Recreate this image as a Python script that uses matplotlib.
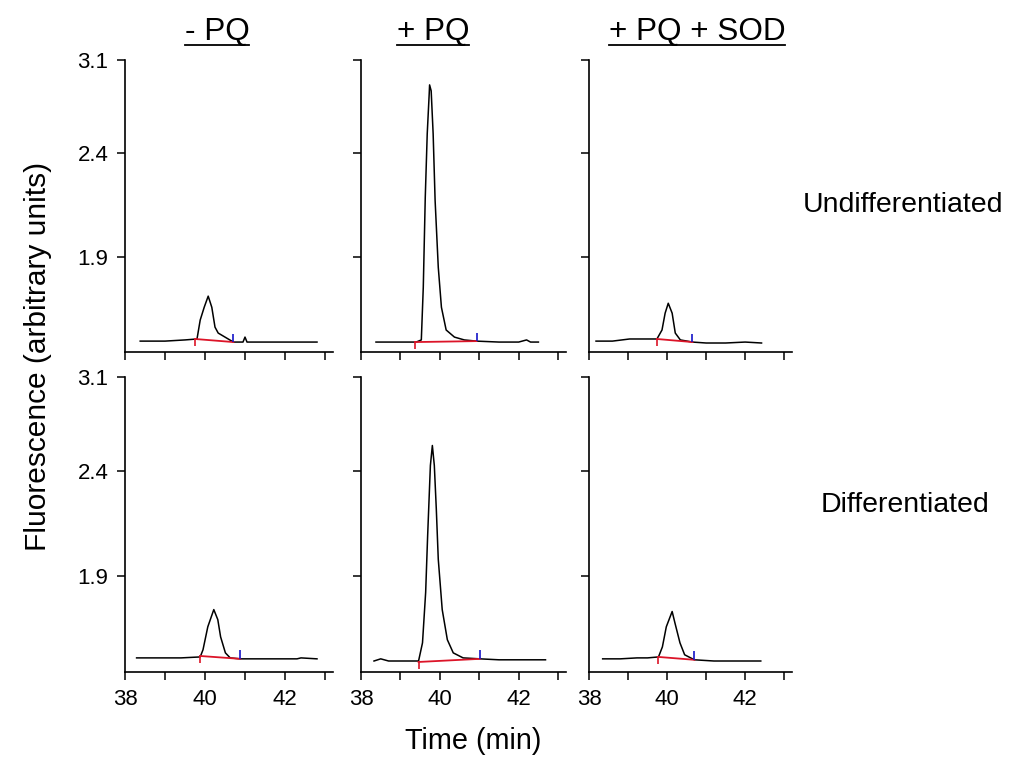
import numpy as np
import matplotlib
matplotlib.use('Agg')
import matplotlib.pyplot as plt
from matplotlib.lines import Line2D

plt.rcParams['font.family'] = ['Liberation Sans', 'DejaVu Sans']

W, H = 1020, 773

# the printed y axis is not linear: values and their height above the baseline (px)
Y_TICKS = [1.9, 2.4, 3.1]
Y_VALS = [1.0, 1.5, 1.9, 2.4, 3.1, 4.0]
Y_POS = [-119, 0, 95, 200, 293, 413]

TIME_TICKS = [38, 39, 40, 41, 42, 43]
TIME_LABELS = ['38', '', '40', '', '42', '']

col_titles = ['- PQ', '+ PQ', '+ PQ + SOD']
row_labels = ['Undifferentiated', 'Differentiated']

# --- undifferentiated ---
t_u_ctrl = [38.38, 39.0, 39.5, 39.8, 39.88, 39.98, 40.08, 40.17, 40.25, 40.33, 40.54, 40.71, 40.95, 41.0, 41.05, 41.5, 42.0, 42.8]
f_u_ctrl = [1.546, 1.546, 1.551, 1.555, 1.635, 1.689, 1.736, 1.689, 1.605, 1.580, 1.559, 1.542, 1.542, 1.563, 1.542, 1.542, 1.542, 1.542]

t_u_pq = [38.38, 38.8, 39.2, 39.40, 39.53, 39.58, 39.63, 39.68, 39.73, 39.74, 39.78, 39.83, 39.88, 39.96, 40.04, 40.16, 40.37, 40.62, 40.93, 41.5, 42.0, 42.2, 42.3, 42.5]
f_u_pq = [1.542, 1.542, 1.542, 1.542, 1.551, 1.774, 2.186, 2.543, 2.844, 2.912, 2.867, 2.543, 2.171, 1.858, 1.689, 1.593, 1.563, 1.551, 1.546, 1.542, 1.542, 1.551, 1.542, 1.542]

t_u_sod = [38.18, 38.6, 39.04, 39.5, 39.74, 39.87, 39.95, 40.03, 40.13, 40.21, 40.34, 40.65, 41.0, 41.5, 42.0, 42.42]
f_u_sod = [1.546, 1.546, 1.555, 1.555, 1.555, 1.593, 1.664, 1.706, 1.664, 1.580, 1.551, 1.542, 1.538, 1.538, 1.542, 1.538]

# --- differentiated ---
t_d_ctrl = [38.29, 38.8, 39.4, 39.88, 39.95, 40.07, 40.22, 40.32, 40.39, 40.51, 40.63, 40.88, 41.5, 42.3, 42.4, 42.8]
f_d_ctrl = [1.559, 1.559, 1.559, 1.563, 1.593, 1.689, 1.761, 1.719, 1.647, 1.580, 1.559, 1.555, 1.555, 1.555, 1.559, 1.555]

t_d_pq = [38.33, 38.5, 38.7, 39.46, 39.56, 39.64, 39.69, 39.76, 39.81, 39.86, 39.91, 39.96, 40.06, 40.19, 40.34, 40.59, 41.02, 41.5, 42.0, 42.68]
f_d_pq = [1.546, 1.555, 1.546, 1.546, 1.622, 1.833, 2.090, 2.438, 2.588, 2.438, 2.219, 1.981, 1.761, 1.635, 1.580, 1.559, 1.555, 1.551, 1.551, 1.551]

t_d_sod = [38.35, 38.8, 39.23, 39.5, 39.78, 39.88, 39.98, 40.13, 40.2, 40.33, 40.45, 40.7, 41.2, 41.5, 42.4]
f_d_sod = [1.555, 1.555, 1.559, 1.559, 1.563, 1.605, 1.689, 1.753, 1.706, 1.622, 1.572, 1.551, 1.546, 1.546, 1.546]

# integration baselines: start time, start value, end time, end value
base_u = [(39.75, 1.555, 40.71, 1.542), (39.38, 1.542, 40.93, 1.546), (39.74, 1.555, 40.65, 1.542)]
base_d = [(39.88, 1.567, 40.88, 1.555), (39.46, 1.542, 41.02, 1.555), (39.78, 1.563, 40.70, 1.551)]

traces = [[(t_u_ctrl, f_u_ctrl), (t_u_pq, f_u_pq), (t_u_sod, f_u_sod)],
          [(t_d_ctrl, f_d_ctrl), (t_d_pq, f_d_pq), (t_d_sod, f_d_sod)]]
baselines = [base_u, base_d]

RED = '#dc1428'
BLUE = '#1414c8'

col_left = [125, 361, 589]
col_width = [208, 205, 203]
row_span = [(60, 352), (377, 672)]


def fwd(v):
    return np.interp(v, Y_VALS, Y_POS)


def inv(p):
    return np.interp(p, Y_POS, Y_VALS)


fig = plt.figure(figsize=(W / 100, H / 100), dpi=100)

for r in range(2):
    top, bot = row_span[r]
    for c in range(3):
        ax = fig.add_axes([col_left[c] / W, 1 - bot / H, col_width[c] / W, (bot - top) / H])
        ax.set_yscale('function', functions=(fwd, inv))
        t, f = traces[r][c]
        ax.plot(t, f, color='black', lw=1.1)
        t0, v0, t1, v1 = baselines[r][c]
        ax.plot([t0, t1], [v0, v1], color=RED, lw=1.3)
        ax.vlines(t0, v0 - 0.03, v0 + 0.004, color=RED, lw=1.2)
        ax.vlines(t1, v1, v1 + 0.036, color=BLUE, lw=1.2)

        ax.set_xlim(38, 43.2)
        ax.set_ylim(1.5, 3.1)
        ax.set_yticks(Y_TICKS)
        ax.set_xticks(TIME_TICKS)
        ax.set_yticks([], minor=True)
        for s in ['top', 'right']:
            ax.spines[s].set_visible(False)
        for s in ['left', 'bottom']:
            ax.spines[s].set_linewidth(1.2)
        ax.tick_params(direction='out', length=6, width=1.1, labelsize=16, pad=6)
        if c == 0:
            ax.set_yticklabels([str(v) for v in Y_TICKS])
        else:
            ax.set_yticklabels([])
        if r == 1:
            ax.set_xticklabels(TIME_LABELS)
        else:
            ax.set_xticklabels([])

# column titles, underlined
title_x = [217, 433, 697]
renderer = fig.canvas.get_renderer()
for x, title in zip(title_x, col_titles):
    txt = fig.text(x / W, 1 - 40 / H, title, ha='center', va='baseline', fontsize=22.7)
    bb = txt.get_window_extent(renderer)
    y_line = 1 - 45 / H
    fig.add_artist(Line2D([bb.x0 / W, bb.x1 / W], [y_line, y_line], color='black', lw=1.3,
                          transform=fig.transFigure))

fig.text(903 / W, 1 - 205 / H, row_labels[0], ha='center', va='center', fontsize=20.5)
fig.text(905 / W, 1 - 505 / H, row_labels[1], ha='center', va='center', fontsize=20.5)
fig.text(38 / W, 1 - 356 / H, 'Fluorescence (arbitrary units)', rotation=90,
         ha='center', va='center', fontsize=21.5)
fig.text(473 / W, 1 - 741 / H, 'Time (min)', ha='center', va='center', fontsize=20.8)

fig.savefig('out.png', dpi=100)
